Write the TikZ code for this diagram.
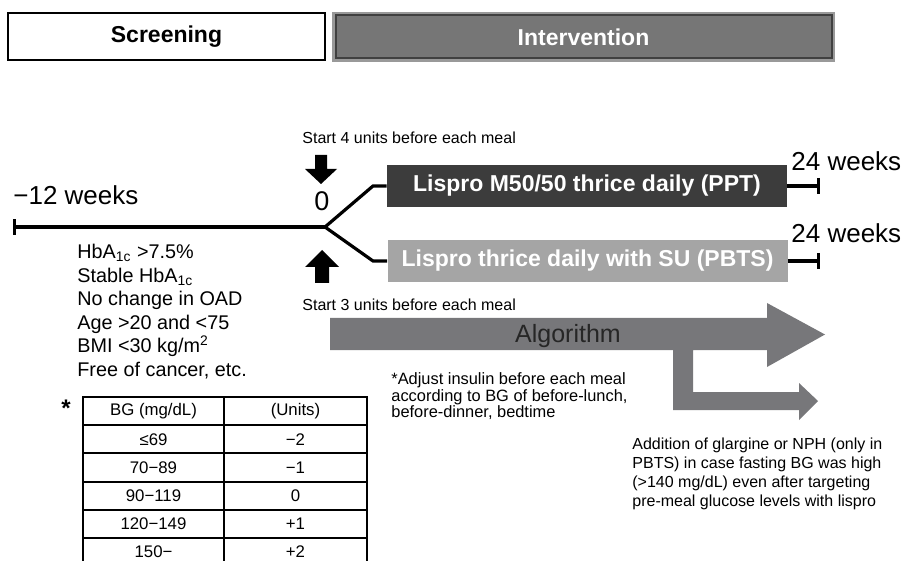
\documentclass[tikz,border=0pt]{standalone}
\usepackage{fontspec}
\setmainfont{Liberation Sans}
\usetikzlibrary{arrows.meta}
\definecolor{pptbox}{HTML}{3C3C3C}
\definecolor{pbtsbox}{HTML}{A5A5A5}
\definecolor{algo}{HTML}{77777A}
\definecolor{interv}{HTML}{767676}
\begin{document}
\begin{tikzpicture}[x=0.5pt,y=-0.5pt,
  tl/.style={line width=1.6pt},
  endbar/.style={-{Bar[width=8pt]}},
  phase/.style={font=\fontsize{11.5}{13}\selectfont\bfseries},
  armbox/.style={font=\fontsize{11.5}{13}\selectfont\bfseries, text=white, minimum width=200pt, minimum height=21pt, inner sep=0pt},
  weeks/.style={font=\fontsize{13}{15}\selectfont, inner sep=0pt},
  small/.style={font=\fontsize{8}{9.5}\selectfont, inner sep=0pt, align=left},
  cell/.style={font=\fontsize{8.4}{10}\selectfont, inner sep=0pt}]
\useasboundingbox (0,0) rectangle (905,561);
\node[phase, draw, line width=1pt, minimum width=158.5pt, minimum height=23.5pt] (scr) at (166.5,36.5) {Screening};
\fill[black!40] (332,12) rectangle (835,62);
\node[phase, text=white, fill=interv, draw=black!75, line width=1pt, minimum width=248pt, minimum height=21.5pt] (int) at (583.5,37) {Intervention};
\node[weeks, anchor=base west] (wkA) at (13,205) {−12 weeks};
\node[weeks, font=\fontsize{13.5}{15}\selectfont] (zlab) at (322,201) {0};
\node[small, anchor=base west] (st4) at (302,144) {Start 4 units before each meal};
\node[small, anchor=base west] (st3) at (302,311) {Start 3 units before each meal};
\fill (315,155) -- (327,155) -- (327,169) -- (337,169) -- (321,184) -- (305,169) -- (315,169) -- cycle;
\fill (322,250) -- (339,267) -- (329,267) -- (329,283) -- (315,283) -- (315,267) -- (305,267) -- cycle;
\node[armbox, fill=pptbox] (ppt) at (587,186) {Lispro M50/50 thrice daily (PPT)};
\node[armbox, fill=pbtsbox] (pbts) at (587.5,261) {Lispro thrice daily with SU (PBTS)};
\coordinate (wk12) at (13,227);
\coordinate (zero) at (325,227);
\coordinate (up) at (373,186);
\coordinate (dn) at (373,261);
\coordinate (pend) at (820,186);
\coordinate (bend) at (820,261);
\draw[tl, {Bar[width=8pt]}-] (wk12) -- (zero);
\draw[tl] (zero) -- (up) -- (ppt.west);
\draw[tl] (zero) -- (dn) -- (pbts.west);
\draw[tl, endbar] (ppt.east) -- (pend);
\draw[tl, endbar] (pbts.east) -- (bend);
\node[weeks, anchor=base west] (wkB) at (791,171) {24 weeks};
\node[weeks, anchor=base west] (wkC) at (791,243) {24 weeks};
\node[font=\fontsize{9.9}{11.75}\selectfont, inner sep=0pt, align=left, anchor=north west] (crit) at (77,244) {HbA\textsubscript{1c} >7.5\%\\Stable HbA\textsubscript{1c}\\No change in OAD\\Age >20 and <75\\BMI <30 kg/m\textsuperscript{2}\\Free of cancer, etc.};
\fill[algo] (330,318) -- (767,318) -- (767,303) -- (825,334.5) -- (767,367) -- (767,350) -- (693,350) -- (693,392) -- (799,392) -- (799,383) -- (818,401) -- (799,420) -- (799,410) -- (673,410) -- (673,350) -- (330,350) -- cycle;
\node[font=\fontsize{12.5}{14}\selectfont, text=black!85, inner sep=0pt] (alg) at (568,336) {Algorithm};
\node[small, font=\fontsize{8.2}{8.4}\selectfont, anchor=north west] (adj) at (391,372) {*Adjust insulin before each meal\\according to BG of before-lunch,\\before-dinner, bedtime};
\node[small, anchor=north west] (add) at (632,438) {Addition of glargine or NPH (only in\\PBTS) in case fasting BG was high\\(>140 mg/dL) even after targeting\\pre-meal glucose levels with lispro};
\node[font=\fontsize{12}{12}\selectfont\bfseries, inner sep=0pt] (star) at (66,408) {*};
\draw[line width=1pt] (83,561) -- (83,397) -- (367,397) -- (367,561);
\draw[line width=1pt] (224,397) -- (224,561);
\foreach \i in {1,...,5}
  \draw[line width=1pt] (83,397+28.2*\i) -- (367,397+28.2*\i);
\foreach \bg/\un [count=\i] in {{BG (mg/dL)}/{(Units)}, ≤69/−2, 70−89/−1, 90−119/0, 120−149/+1, 150−/+2}{
  \node[cell] (bg\i) at (153.5,397+28.2*\i-14.1) {\bg};
  \node[cell] (un\i) at (295.5,397+28.2*\i-14.1) {\un};
}
\end{tikzpicture}
\end{document}
